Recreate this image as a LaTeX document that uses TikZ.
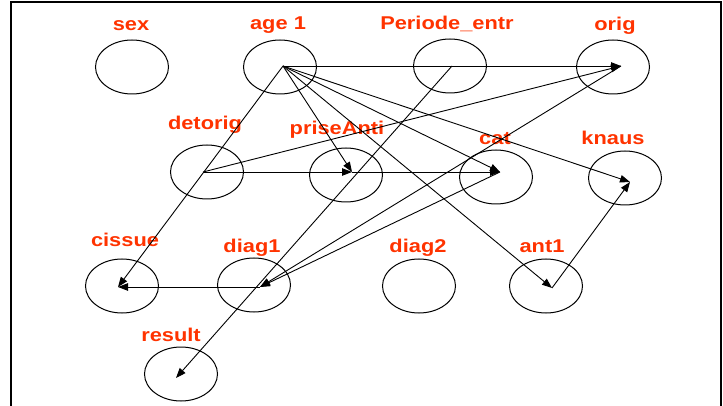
\documentclass[tikz,border=0pt]{standalone}
\usepackage{fontspec}
\newfontfamily\lblfont[FakeStretch=1.18]{Liberation Sans}
\usetikzlibrary{arrows.meta,shapes.geometric}
\definecolor{lblred}{RGB}{255,51,0}
\tikzset{
  var/.style={draw=black, line width=1pt, ellipse, minimum width=73pt, minimum height=54pt, inner sep=0pt},
  lbl/.style={text=lblred, font=\lblfont\bfseries\fontsize{18.5}{20}\selectfont, anchor=base, inner sep=0pt},
  edge/.style={draw=black, line width=0.9pt, -{Triangle[length=10pt,width=7.5pt]}},
  frameline/.style={draw=black, line width=2pt}
}
\begin{document}
\begin{tikzpicture}[x=1pt,y=-1pt]
\useasboundingbox (0,0) rectangle (723,406);
% frame
\coordinate (fbl) at (11,407);
\coordinate (ftl) at (11,2);
\coordinate (ftr) at (721,2);
\coordinate (fbr) at (721,407);
\draw[frameline] (fbl) -- (ftl) -- (ftr) -- (fbr);
% ellipses
\node[var] (sex) at (132,67) {};
\node[var] (age) at (280,67) {};
\node[var] (per) at (450,66) {};
\node[var] (orig) at (613,67) {};
\node[var] (det) at (207,172) {};
\node[var] (prise) at (346,175) {};
\node[var] (cat) at (496,177) {};
\node[var] (knaus) at (625,178) {};
\node[var] (ciss) at (122,286) {};
\node[var] (diag1) at (254,285) {};
\node[var] (diag2) at (419,286) {};
\node[var] (ant1) at (546,286) {};
\node[var] (result) at (181,374) {};
% labels
\node[lbl] (sexl) at (131,31) {sex};
\node[lbl] (agel) at (278,30) {age 1};
\node[lbl] (perl) at (447,29.5) {Periode\_entr};
\node[lbl] (origl) at (615,31) {orig};
\node[lbl] (detl) at (205,130) {detorig};
\node[lbl] (prisel) at (337,135) {priseAnti};
\node[lbl] (catl) at (495,145) {cat};
\node[lbl] (knausl) at (613,145) {knaus};
\node[lbl] (cissl) at (125,247) {cissue};
\node[lbl] (diag1l) at (252,253) {diag1};
\node[lbl] (diag2l) at (418,253) {diag2};
\node[lbl] (ant1l) at (542,253) {ant1};
\node[lbl] (resultl) at (171,341) {result};
% connection points
\coordinate (agep) at (283,66);
\coordinate (perp) at (452,66);
\coordinate (origp) at (621,66);
\coordinate (detp) at (203,172);
\coordinate (prisep) at (352,172);
\coordinate (catp) at (500,172);
\coordinate (knausp) at (630,182);
\coordinate (cissp) at (118,287);
\coordinate (diag1p) at (260,287);
\coordinate (ant1p) at (552,288);
\coordinate (resultp) at (176,378);
% edges
\draw[edge] (agep) -- (origp);
\draw[edge] (agep) -- (prisep);
\draw[edge] (agep) -- (catp);
\draw[edge] (agep) -- (knausp);
\draw[edge] (agep) -- (ant1p);
\draw[edge] (agep) -- (cissp);
\draw[edge] (perp) -- (resultp);
\draw[edge] (detp) -- (prisep);
\draw[edge] (prisep) -- (catp);
\draw[edge] (detp) -- (origp);
\draw[edge] (diag1p) -- (cissp);
\draw[edge] (catp) -- (diag1p);
\draw[edge] (origp) -- (diag1p);
\draw[edge] (ant1p) -- (knausp);
\end{tikzpicture}
\end{document}
